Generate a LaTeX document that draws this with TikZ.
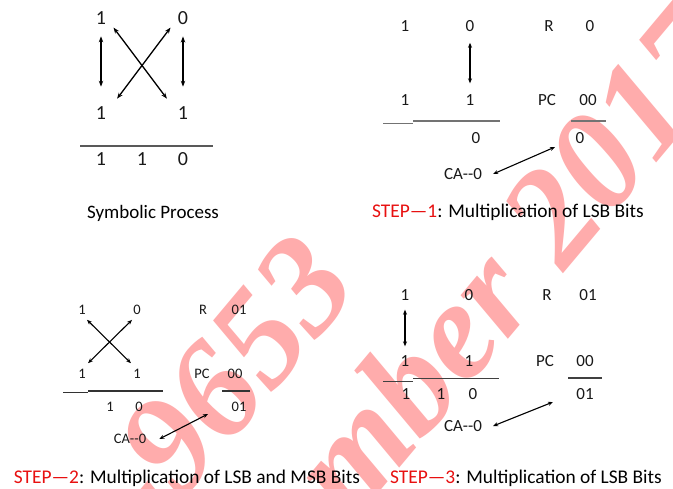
\documentclass[tikz,border=0pt]{standalone}
\usepackage{fontspec}
\setmainfont{Carlito}
\newfontfamily\wmfont{Liberation Serif}
\usetikzlibrary{arrows.meta}
\definecolor{wmpink}{RGB}{255,172,172}
\definecolor{stepred}{RGB}{232,16,16}
\newcommand{\fsz}[1]{\fontsize{#1}{#1}\selectfont}

\begin{document}
\begin{tikzpicture}[x=1pt,y=-1pt,
  bit/.style={inner sep=0pt,text=black!90},
  dbl/.style={{Stealth[length=6pt,width=4.5pt]}-{Stealth[length=6pt,width=4.5pt]},line width=1.3pt},
  dblsm/.style={{Stealth[length=5pt,width=4pt]}-{Stealth[length=5pt,width=4pt]},line width=1.1pt},
  rule/.style={black!55,line width=1.6pt},
  captxt/.style={anchor=base,inner sep=0pt,font=\fsz{19.4}},
  wm/.style={inner sep=0pt,text=wmpink,font=\wmfont\bfseries\itshape\fsz{140},rotate=50}]
\fill[white] (0,0) rectangle (673,488);
\useasboundingbox (0,0) rectangle (673,488);

% watermark
\begin{scope}
  \clip (0,0) rectangle (673,488);
  \node[wm,anchor=base east] (wm1) at (362,287) {2321-9653};
  \node[wm,anchor=base] (wm2) at (448,411) {September 2017};
\end{scope}

% symbolic process
\foreach \x/\y/\t/\n in {101/18/1/s0a,183/18/0/s0b,101/113/1/s0c,183/113/1/s0d,
  101/159/1/s0o1,142/159/1/s0o2,183/159/0/s0o3}
  \node[bit,font=\fsz{20}] (\n) at (\x,\y) {\t};
\draw[rule,black!65,line width=1.3pt] (80,146) -- (213,146);
\draw[dbl,shorten <=11.7pt,shorten >=19.7pt] (s0a) -- (s0c);
\draw[dbl,shorten <=11.7pt,shorten >=19.7pt] (s0b) -- (s0d);
\draw[dbl,shorten <=12pt,shorten >=18pt] (s0a.east) -- (s0d.west);
\draw[dbl,shorten <=12pt,shorten >=18pt] (s0b.west) -- (s0c.east);
\node[captxt,font=\fsz{19}] (s0cap) at (153,218) {Symbolic Process};

% step 1
\foreach \x/\y/\t/\n in {405/26/1/s1a,470/26/0/s1b,549/26/R/s1r,590/26/0/s1rv,
  405/100/1/s1c,470/100/1/s1d,547/100/PC/s1pc,588/100/00/s1pcv,
  476/138/0/s1o,580/138/0/s1pco,463/174/{CA-{}-0}/s1ca}
  \node[bit,font=\fsz{17}] (\n) at (\x,\y) {\t};
\draw[rule] (383,123.3) -- (413,123.3);
\draw[rule] (413,120.7) -- (500,120.7);
\draw[rule] (571,121) -- (606,121);
\draw[dblsm,shorten <=11pt,shorten >=11pt] (s1b) -- (s1d);
\coordinate (s1tip) at (555,147);
\draw[dblsm] ([xshift=11pt]s1ca.east) -- (s1tip);
\node[captxt] (s1cap) at (508,217) {\textcolor{stepred}{STEP—1}: Multiplication of LSB Bits};

% step 2
\foreach \x/\y/\t/\n in {82/310/1/s2a,137/310/0/s2b,203/310/R/s2r,239/310/01/s2rv,
  82/374/1/s2c,137/374/1/s2d,202/374/PC/s2pc,235/374/00/s2pcv,
  110/407/1/s2o1,139/407/0/s2o2,239/407/01/s2pco,130/439/{CA-{}-0}/s2ca}
  \node[bit,font=\fsz{14.5}] (\n) at (\x,\y) {\t};
\draw[rule,black!80,line width=1.1pt] (63,392.7) -- (88,392.7);
\draw[rule,black!80,line width=1.1pt] (88,391) -- (163,391);
\draw[rule,black!80,line width=1.1pt] (222,391) -- (250,391);
\draw[dblsm,shorten <=7pt,shorten >=8.5pt] (s2a.south) -- (s2d.north);
\draw[dblsm,shorten <=7pt,shorten >=8.5pt] (s2b.south) -- (s2c.north);
\coordinate (s2tip) at (208,414);
\draw[dblsm] ([xshift=13pt]s2ca.east) -- (s2tip);
\node[captxt] (s2cap) at (187,483) {\textcolor{stepred}{STEP—2}: Multiplication of LSB and MSB Bits};

% step 3
\foreach \x/\y/\t/\n in {405/295/1/s3a,469/295/0/s3b,547/295/R/s3r,588/295/01/s3rv,
  405/361/1/s3c,469/361/1/s3d,545/361/PC/s3pc,585/361/00/s3pcv,
  406/394/1/s3o1,441/394/1/s3o2,473/394/0/s3o3,585/394/01/s3pco,463/426/{CA-{}-0}/s3ca}
  \node[bit,font=\fsz{17}] (\n) at (\x,\y) {\t};
\draw[rule,black!75,line width=1.2pt] (383,381.7) -- (413,381.7);
\draw[rule,black!75,line width=1.2pt] (413,378.7) -- (499,378.7);
\draw[rule,black!75,line width=1.2pt] (568,378) -- (602,378);
\draw[dblsm,shorten <=9pt,shorten >=9pt] (s3a) -- (s3c);
\coordinate (s3tip) at (553,402);
\draw[dblsm] ([xshift=11pt]s3ca.east) -- (s3tip);
\node[captxt] (s3cap) at (526,483) {\textcolor{stepred}{STEP—3}: Multiplication of LSB Bits};
\end{tikzpicture}
\end{document}
